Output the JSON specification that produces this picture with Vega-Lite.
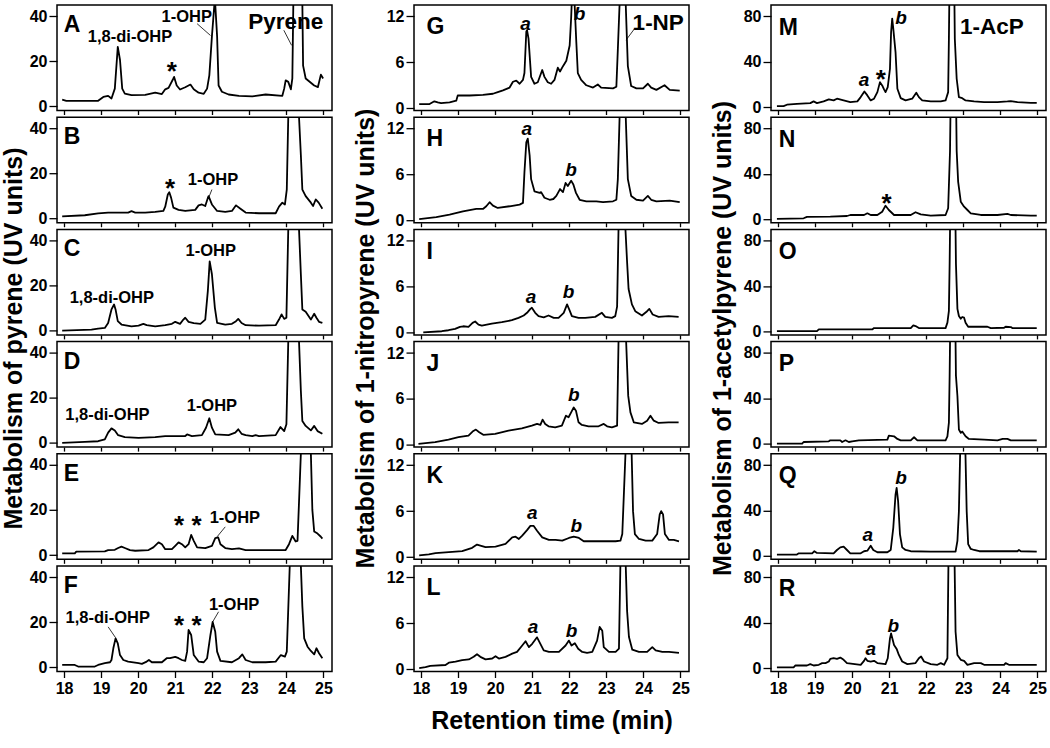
{
"$schema":"https://vega.github.io/schema/vega-lite/v6.json",
"padding":{"left":0,"top":4,"right":0,"bottom":4},
"background":"white",
"config":{"font":"Liberation Sans","view":{"stroke":"black","strokeWidth":1.5},
"axis":{"domain":false,"grid":false,"tickColor":"black","tickWidth":1.3,"labelColor":"black","labelFont":"Liberation Sans","labelFontSize":16,"labelFontWeight":"bold","titleFont":"Liberation Sans","titleFontSize":25,"titleFontWeight":"bold","titleColor":"black","labelFlush":false,"labelOverlap":false}},
"datasets":{
"trace":[
{"p":"A","t":17.95,"v":2.9},{"p":"A","t":18.06,"v":2.4},{"p":"A","t":18.92,"v":2.4},{"p":"A","t":19.06,"v":4.1},{"p":"A","t":19.19,"v":4.6},{"p":"A","t":19.28,"v":3.4},{"p":"A","t":19.37,"v":7.8},{"p":"A","t":19.45,"v":26.3},{"p":"A","t":19.51,"v":20.5},{"p":"A","t":19.57,"v":7.8},{"p":"A","t":19.64,"v":5.6},{"p":"A","t":19.82,"v":4.9},{"p":"A","t":20.19,"v":5.0},{"p":"A","t":20.46,"v":6.0},{"p":"A","t":20.64,"v":5.4},{"p":"A","t":20.73,"v":7.5},{"p":"A","t":20.82,"v":8.1},{"p":"A","t":20.95,"v":12.3},{"p":"A","t":20.97,"v":13.0},{"p":"A","t":21.04,"v":9.2},{"p":"A","t":21.13,"v":7.4},{"p":"A","t":21.27,"v":8.4},{"p":"A","t":21.41,"v":9.6},{"p":"A","t":21.5,"v":7.5},{"p":"A","t":21.63,"v":6.0},{"p":"A","t":21.77,"v":5.5},{"p":"A","t":21.86,"v":7.8},{"p":"A","t":21.92,"v":13.7},{"p":"A","t":21.99,"v":31},{"p":"A","t":22.07,"v":48},{"p":"A","t":22.13,"v":31},{"p":"A","t":22.17,"v":9.2},{"p":"A","t":22.26,"v":6.4},{"p":"A","t":22.44,"v":5.2},{"p":"A","t":22.72,"v":4.6},{"p":"A","t":23.08,"v":4.4},{"p":"A","t":23.44,"v":5.2},{"p":"A","t":23.89,"v":4.6},{"p":"A","t":23.94,"v":7.8},{"p":"A","t":23.98,"v":11.5},{"p":"A","t":24.05,"v":10.8},{"p":"A","t":24.12,"v":7.5},{"p":"A","t":24.16,"v":12.3},{"p":"A","t":24.19,"v":50},{"p":"A","t":24.32,"v":200},{"p":"A","t":24.45,"v":18},{"p":"A","t":24.52,"v":12.3},{"p":"A","t":24.75,"v":9.2},{"p":"A","t":24.85,"v":8.5},{"p":"A","t":24.93,"v":14},{"p":"A","t":24.99,"v":12.3},
{"p":"B","t":17.95,"v":0.9},{"p":"B","t":18.56,"v":1.4},{"p":"B","t":18.92,"v":2.2},{"p":"B","t":19.19,"v":2.6},{"p":"B","t":19.73,"v":2.6},{"p":"B","t":19.82,"v":3.2},{"p":"B","t":19.92,"v":2.6},{"p":"B","t":20.19,"v":2.6},{"p":"B","t":20.46,"v":2.9},{"p":"B","t":20.68,"v":3.3},{"p":"B","t":20.73,"v":5.2},{"p":"B","t":20.8,"v":10.6},{"p":"B","t":20.84,"v":11.6},{"p":"B","t":20.89,"v":9.1},{"p":"B","t":20.95,"v":4.8},{"p":"B","t":21.09,"v":3.8},{"p":"B","t":21.27,"v":3.3},{"p":"B","t":21.54,"v":3.8},{"p":"B","t":21.63,"v":5.8},{"p":"B","t":21.72,"v":6.2},{"p":"B","t":21.81,"v":5.5},{"p":"B","t":21.88,"v":9.1},{"p":"B","t":21.9,"v":9.9},{"p":"B","t":21.99,"v":6.2},{"p":"B","t":22.13,"v":3.3},{"p":"B","t":22.35,"v":2.9},{"p":"B","t":22.53,"v":3.3},{"p":"B","t":22.64,"v":5.8},{"p":"B","t":22.76,"v":4.3},{"p":"B","t":22.9,"v":2.6},{"p":"B","t":23.26,"v":2.3},{"p":"B","t":23.71,"v":2.3},{"p":"B","t":23.8,"v":5.2},{"p":"B","t":23.89,"v":7.0},{"p":"B","t":23.96,"v":6.2},{"p":"B","t":24.01,"v":12.8},{"p":"B","t":24.05,"v":45},{"p":"B","t":24.2,"v":200},{"p":"B","t":24.34,"v":45},{"p":"B","t":24.39,"v":28},{"p":"B","t":24.43,"v":12.8},{"p":"B","t":24.52,"v":9.9},{"p":"B","t":24.66,"v":7.0},{"p":"B","t":24.72,"v":5.5},{"p":"B","t":24.79,"v":8.4},{"p":"B","t":24.87,"v":7.0},{"p":"B","t":24.97,"v":4.3},
{"p":"C","t":17.95,"v":0},{"p":"C","t":18.74,"v":0.4},{"p":"C","t":18.92,"v":0.9},{"p":"C","t":19.1,"v":1.2},{"p":"C","t":19.19,"v":3.4},{"p":"C","t":19.28,"v":9.4},{"p":"C","t":19.35,"v":11.6},{"p":"C","t":19.39,"v":9.4},{"p":"C","t":19.45,"v":4.2},{"p":"C","t":19.55,"v":2.7},{"p":"C","t":19.82,"v":1.9},{"p":"C","t":20.01,"v":2.2},{"p":"C","t":20.14,"v":3.0},{"p":"C","t":20.23,"v":2.4},{"p":"C","t":20.46,"v":1.9},{"p":"C","t":20.73,"v":2.4},{"p":"C","t":20.91,"v":3.0},{"p":"C","t":21.0,"v":3.9},{"p":"C","t":21.13,"v":3.0},{"p":"C","t":21.22,"v":4.9},{"p":"C","t":21.27,"v":5.7},{"p":"C","t":21.36,"v":3.9},{"p":"C","t":21.5,"v":3.3},{"p":"C","t":21.68,"v":3.0},{"p":"C","t":21.81,"v":4.9},{"p":"C","t":21.88,"v":17.6},{"p":"C","t":21.93,"v":30.7},{"p":"C","t":21.99,"v":25},{"p":"C","t":22.07,"v":10.1},{"p":"C","t":22.13,"v":3.4},{"p":"C","t":22.35,"v":2.7},{"p":"C","t":22.53,"v":3.0},{"p":"C","t":22.64,"v":4.2},{"p":"C","t":22.7,"v":5.2},{"p":"C","t":22.79,"v":3.4},{"p":"C","t":22.9,"v":2.4},{"p":"C","t":23.26,"v":2.2},{"p":"C","t":23.71,"v":2.4},{"p":"C","t":23.8,"v":4.9},{"p":"C","t":23.87,"v":7.2},{"p":"C","t":23.94,"v":5.2},{"p":"C","t":24.0,"v":5.7},{"p":"C","t":24.05,"v":45},{"p":"C","t":24.2,"v":200},{"p":"C","t":24.34,"v":45},{"p":"C","t":24.39,"v":24.9},{"p":"C","t":24.43,"v":9.4},{"p":"C","t":24.52,"v":8.4},{"p":"C","t":24.66,"v":4.9},{"p":"C","t":24.75,"v":7.5},{"p":"C","t":24.81,"v":5.7},{"p":"C","t":24.88,"v":3.9},{"p":"C","t":24.97,"v":3.4},
{"p":"D","t":17.95,"v":0},{"p":"D","t":18.56,"v":0.4},{"p":"D","t":18.92,"v":0.7},{"p":"D","t":19.1,"v":1.5},{"p":"D","t":19.19,"v":4.5},{"p":"D","t":19.28,"v":6.4},{"p":"D","t":19.37,"v":5.5},{"p":"D","t":19.46,"v":3.4},{"p":"D","t":19.64,"v":2.5},{"p":"D","t":20.01,"v":2.2},{"p":"D","t":20.46,"v":2.5},{"p":"D","t":20.73,"v":3.0},{"p":"D","t":21.27,"v":3.0},{"p":"D","t":21.32,"v":3.7},{"p":"D","t":21.45,"v":3.0},{"p":"D","t":21.72,"v":3.4},{"p":"D","t":21.83,"v":6.7},{"p":"D","t":21.92,"v":10.9},{"p":"D","t":21.99,"v":6.7},{"p":"D","t":22.08,"v":3.7},{"p":"D","t":22.44,"v":3.4},{"p":"D","t":22.62,"v":4.5},{"p":"D","t":22.7,"v":6.0},{"p":"D","t":22.79,"v":4.0},{"p":"D","t":22.9,"v":3.4},{"p":"D","t":23.08,"v":3.0},{"p":"D","t":23.17,"v":3.4},{"p":"D","t":23.26,"v":3.0},{"p":"D","t":23.71,"v":3.4},{"p":"D","t":23.84,"v":7.0},{"p":"D","t":23.94,"v":5.2},{"p":"D","t":24.0,"v":8.2},{"p":"D","t":24.05,"v":45},{"p":"D","t":24.2,"v":200},{"p":"D","t":24.34,"v":45},{"p":"D","t":24.39,"v":23},{"p":"D","t":24.43,"v":9.7},{"p":"D","t":24.52,"v":7.5},{"p":"D","t":24.66,"v":5.5},{"p":"D","t":24.75,"v":7.5},{"p":"D","t":24.84,"v":5.2},{"p":"D","t":24.97,"v":4.0},
{"p":"E","t":17.95,"v":0.7},{"p":"E","t":18.29,"v":0.7},{"p":"E","t":18.33,"v":1.5},{"p":"E","t":19.1,"v":1.6},{"p":"E","t":19.19,"v":2.2},{"p":"E","t":19.37,"v":2.3},{"p":"E","t":19.46,"v":3.1},{"p":"E","t":19.55,"v":3.7},{"p":"E","t":19.64,"v":3.1},{"p":"E","t":19.78,"v":2.2},{"p":"E","t":19.92,"v":1.9},{"p":"E","t":20.28,"v":2.2},{"p":"E","t":20.41,"v":3.4},{"p":"E","t":20.55,"v":5.6},{"p":"E","t":20.64,"v":4.8},{"p":"E","t":20.73,"v":2.6},{"p":"E","t":20.91,"v":2.6},{"p":"E","t":21.0,"v":4.1},{"p":"E","t":21.09,"v":5.6},{"p":"E","t":21.18,"v":4.8},{"p":"E","t":21.27,"v":3.4},{"p":"E","t":21.36,"v":4.8},{"p":"E","t":21.43,"v":8.9},{"p":"E","t":21.5,"v":6.3},{"p":"E","t":21.59,"v":3.4},{"p":"E","t":21.81,"v":3.1},{"p":"E","t":21.99,"v":4.1},{"p":"E","t":22.08,"v":7.5},{"p":"E","t":22.16,"v":7.8},{"p":"E","t":22.22,"v":4.8},{"p":"E","t":22.35,"v":3.1},{"p":"E","t":22.53,"v":2.6},{"p":"E","t":22.72,"v":2.9},{"p":"E","t":22.9,"v":2.2},{"p":"E","t":23.44,"v":2.2},{"p":"E","t":23.98,"v":2.2},{"p":"E","t":24.07,"v":4.8},{"p":"E","t":24.16,"v":8.5},{"p":"E","t":24.25,"v":6.0},{"p":"E","t":24.3,"v":6.3},{"p":"E","t":24.39,"v":45},{"p":"E","t":24.52,"v":200},{"p":"E","t":24.66,"v":45},{"p":"E","t":24.7,"v":20},{"p":"E","t":24.75,"v":10.4},{"p":"E","t":24.84,"v":9.5},{"p":"E","t":24.93,"v":8.1},{"p":"E","t":24.97,"v":7.3},
{"p":"F","t":17.95,"v":1.0},{"p":"F","t":18.29,"v":1.0},{"p":"F","t":18.38,"v":0.3},{"p":"F","t":18.83,"v":0.3},{"p":"F","t":18.92,"v":1.0},{"p":"F","t":19.1,"v":1.8},{"p":"F","t":19.24,"v":2.2},{"p":"F","t":19.28,"v":3.2},{"p":"F","t":19.33,"v":8.4},{"p":"F","t":19.39,"v":12.8},{"p":"F","t":19.45,"v":10.6},{"p":"F","t":19.51,"v":5.4},{"p":"F","t":19.6,"v":3.2},{"p":"F","t":19.73,"v":2.5},{"p":"F","t":20.01,"v":1.8},{"p":"F","t":20.1,"v":1.5},{"p":"F","t":20.23,"v":2.5},{"p":"F","t":20.29,"v":3.2},{"p":"F","t":20.37,"v":2.2},{"p":"F","t":20.64,"v":2.2},{"p":"F","t":20.77,"v":4.0},{"p":"F","t":20.86,"v":4.0},{"p":"F","t":21.0,"v":4.6},{"p":"F","t":21.09,"v":4.0},{"p":"F","t":21.18,"v":3.2},{"p":"F","t":21.27,"v":2.8},{"p":"F","t":21.32,"v":6.9},{"p":"F","t":21.36,"v":16.5},{"p":"F","t":21.43,"v":14.3},{"p":"F","t":21.5,"v":5.4},{"p":"F","t":21.63,"v":2.5},{"p":"F","t":21.77,"v":2.2},{"p":"F","t":21.86,"v":4.0},{"p":"F","t":21.95,"v":14.3},{"p":"F","t":22.01,"v":20.1},{"p":"F","t":22.08,"v":15.7},{"p":"F","t":22.13,"v":6.9},{"p":"F","t":22.22,"v":2.8},{"p":"F","t":22.53,"v":2.2},{"p":"F","t":22.72,"v":4.0},{"p":"F","t":22.81,"v":5.7},{"p":"F","t":22.9,"v":3.2},{"p":"F","t":23.08,"v":2.2},{"p":"F","t":23.44,"v":2.2},{"p":"F","t":23.71,"v":2.5},{"p":"F","t":23.85,"v":5.4},{"p":"F","t":23.96,"v":4.7},{"p":"F","t":24.01,"v":6.9},{"p":"F","t":24.09,"v":45},{"p":"F","t":24.23,"v":200},{"p":"F","t":24.39,"v":45},{"p":"F","t":24.43,"v":27},{"p":"F","t":24.48,"v":12.8},{"p":"F","t":24.57,"v":9.1},{"p":"F","t":24.66,"v":7.2},{"p":"F","t":24.75,"v":5.7},{"p":"F","t":24.81,"v":8.4},{"p":"F","t":24.88,"v":6.2},{"p":"F","t":24.97,"v":4.0},
{"p":"G","t":17.95,"v":0.54},{"p":"G","t":18.23,"v":0.54},{"p":"G","t":18.36,"v":0.9},{"p":"G","t":18.45,"v":0.76},{"p":"G","t":18.54,"v":0.67},{"p":"G","t":18.77,"v":0.76},{"p":"G","t":18.95,"v":0.99},{"p":"G","t":18.99,"v":1.66},{"p":"G","t":19.31,"v":1.66},{"p":"G","t":19.67,"v":1.75},{"p":"G","t":19.94,"v":1.89},{"p":"G","t":20.07,"v":2.1},{"p":"G","t":20.21,"v":2.34},{"p":"G","t":20.39,"v":2.7},{"p":"G","t":20.48,"v":3.46},{"p":"G","t":20.57,"v":3.6},{"p":"G","t":20.66,"v":3.2},{"p":"G","t":20.75,"v":3.7},{"p":"G","t":20.79,"v":4.6},{"p":"G","t":20.84,"v":10.0},{"p":"G","t":20.86,"v":10.2},{"p":"G","t":20.9,"v":9.1},{"p":"G","t":20.97,"v":4.1},{"p":"G","t":21.06,"v":3.2},{"p":"G","t":21.15,"v":3.4},{"p":"G","t":21.27,"v":5.0},{"p":"G","t":21.33,"v":4.1},{"p":"G","t":21.42,"v":3.4},{"p":"G","t":21.51,"v":3.2},{"p":"G","t":21.6,"v":3.7},{"p":"G","t":21.69,"v":5.3},{"p":"G","t":21.75,"v":4.8},{"p":"G","t":21.83,"v":5.5},{"p":"G","t":21.92,"v":6.2},{"p":"G","t":22.01,"v":8.2},{"p":"G","t":22.05,"v":11.8},{"p":"G","t":22.1,"v":18},{"p":"G","t":22.14,"v":14},{"p":"G","t":22.19,"v":8.6},{"p":"G","t":22.23,"v":4.6},{"p":"G","t":22.32,"v":3.7},{"p":"G","t":22.46,"v":3.0},{"p":"G","t":22.64,"v":2.7},{"p":"G","t":22.77,"v":3.1},{"p":"G","t":22.86,"v":2.7},{"p":"G","t":23.18,"v":2.6},{"p":"G","t":23.27,"v":2.8},{"p":"G","t":23.31,"v":7.7},{"p":"G","t":23.36,"v":14},{"p":"G","t":23.45,"v":60},{"p":"G","t":23.52,"v":14},{"p":"G","t":23.58,"v":5.5},{"p":"G","t":23.67,"v":2.9},{"p":"G","t":23.81,"v":2.6},{"p":"G","t":23.99,"v":2.6},{"p":"G","t":24.12,"v":3.2},{"p":"G","t":24.21,"v":2.7},{"p":"G","t":24.35,"v":2.4},{"p":"G","t":24.57,"v":3.0},{"p":"G","t":24.71,"v":2.4},{"p":"G","t":24.98,"v":2.3},
{"p":"H","t":17.95,"v":0.18},{"p":"H","t":18.41,"v":0.44},{"p":"H","t":18.77,"v":0.75},{"p":"H","t":19.13,"v":1.19},{"p":"H","t":19.49,"v":1.5},{"p":"H","t":19.67,"v":1.5},{"p":"H","t":19.76,"v":1.85},{"p":"H","t":19.85,"v":2.38},{"p":"H","t":19.94,"v":1.94},{"p":"H","t":20.07,"v":1.63},{"p":"H","t":20.39,"v":1.85},{"p":"H","t":20.66,"v":2.07},{"p":"H","t":20.75,"v":2.29},{"p":"H","t":20.79,"v":6.3},{"p":"H","t":20.84,"v":10.2},{"p":"H","t":20.88,"v":10.7},{"p":"H","t":20.93,"v":8.5},{"p":"H","t":20.97,"v":5.4},{"p":"H","t":21.06,"v":3.8},{"p":"H","t":21.2,"v":3.6},{"p":"H","t":21.24,"v":3.7},{"p":"H","t":21.33,"v":2.96},{"p":"H","t":21.47,"v":2.7},{"p":"H","t":21.57,"v":2.8},{"p":"H","t":21.65,"v":3.2},{"p":"H","t":21.75,"v":4.1},{"p":"H","t":21.83,"v":3.7},{"p":"H","t":21.9,"v":4.9},{"p":"H","t":21.96,"v":4.5},{"p":"H","t":22.05,"v":5.2},{"p":"H","t":22.11,"v":4.7},{"p":"H","t":22.18,"v":3.6},{"p":"H","t":22.28,"v":2.7},{"p":"H","t":22.46,"v":2.5},{"p":"H","t":22.73,"v":2.5},{"p":"H","t":22.91,"v":2.4},{"p":"H","t":23.18,"v":2.5},{"p":"H","t":23.27,"v":2.7},{"p":"H","t":23.31,"v":5.4},{"p":"H","t":23.36,"v":14},{"p":"H","t":23.45,"v":60},{"p":"H","t":23.52,"v":14},{"p":"H","t":23.58,"v":5.4},{"p":"H","t":23.67,"v":3.2},{"p":"H","t":23.81,"v":2.7},{"p":"H","t":23.99,"v":2.6},{"p":"H","t":24.12,"v":3.2},{"p":"H","t":24.21,"v":2.7},{"p":"H","t":24.35,"v":2.5},{"p":"H","t":24.71,"v":2.6},{"p":"H","t":24.98,"v":2.4},
{"p":"I","t":18.06,"v":0.04},{"p":"I","t":18.56,"v":0.18},{"p":"I","t":18.74,"v":0.31},{"p":"I","t":18.92,"v":0.48},{"p":"I","t":19.05,"v":0.75},{"p":"I","t":19.14,"v":0.83},{"p":"I","t":19.28,"v":0.75},{"p":"I","t":19.39,"v":1.27},{"p":"I","t":19.46,"v":1.45},{"p":"I","t":19.55,"v":1.05},{"p":"I","t":19.64,"v":0.92},{"p":"I","t":19.91,"v":1.18},{"p":"I","t":20.18,"v":1.36},{"p":"I","t":20.45,"v":1.62},{"p":"I","t":20.63,"v":1.93},{"p":"I","t":20.77,"v":2.24},{"p":"I","t":20.86,"v":2.59},{"p":"I","t":20.95,"v":3.1},{"p":"I","t":20.99,"v":3.25},{"p":"I","t":21.08,"v":2.59},{"p":"I","t":21.17,"v":2.15},{"p":"I","t":21.31,"v":2.0},{"p":"I","t":21.44,"v":2.24},{"p":"I","t":21.58,"v":1.93},{"p":"I","t":21.71,"v":1.93},{"p":"I","t":21.85,"v":2.59},{"p":"I","t":21.94,"v":3.7},{"p":"I","t":22.0,"v":3.0},{"p":"I","t":22.07,"v":2.15},{"p":"I","t":22.25,"v":1.93},{"p":"I","t":22.43,"v":1.93},{"p":"I","t":22.7,"v":2.06},{"p":"I","t":22.88,"v":2.59},{"p":"I","t":22.97,"v":2.06},{"p":"I","t":23.15,"v":1.93},{"p":"I","t":23.24,"v":2.15},{"p":"I","t":23.29,"v":3.4},{"p":"I","t":23.33,"v":14},{"p":"I","t":23.42,"v":60},{"p":"I","t":23.51,"v":14},{"p":"I","t":23.56,"v":9.2},{"p":"I","t":23.6,"v":5.7},{"p":"I","t":23.69,"v":3.7},{"p":"I","t":23.78,"v":2.8},{"p":"I","t":23.96,"v":2.24},{"p":"I","t":24.1,"v":2.8},{"p":"I","t":24.16,"v":3.1},{"p":"I","t":24.25,"v":2.37},{"p":"I","t":24.41,"v":2.06},{"p":"I","t":24.68,"v":2.15},{"p":"I","t":24.95,"v":2.06},
{"p":"J","t":17.93,"v":0.13},{"p":"J","t":18.38,"v":0.35},{"p":"J","t":18.74,"v":0.69},{"p":"J","t":19.01,"v":1.0},{"p":"J","t":19.28,"v":1.21},{"p":"J","t":19.39,"v":1.73},{"p":"J","t":19.48,"v":1.99},{"p":"J","t":19.57,"v":1.65},{"p":"J","t":19.68,"v":1.3},{"p":"J","t":20.0,"v":1.43},{"p":"J","t":20.36,"v":1.86},{"p":"J","t":20.72,"v":2.16},{"p":"J","t":20.99,"v":2.5},{"p":"J","t":21.13,"v":2.73},{"p":"J","t":21.22,"v":2.6},{"p":"J","t":21.28,"v":3.29},{"p":"J","t":21.35,"v":2.73},{"p":"J","t":21.44,"v":2.42},{"p":"J","t":21.62,"v":2.29},{"p":"J","t":21.8,"v":2.5},{"p":"J","t":21.91,"v":3.81},{"p":"J","t":21.98,"v":3.6},{"p":"J","t":22.05,"v":4.24},{"p":"J","t":22.12,"v":4.89},{"p":"J","t":22.18,"v":4.46},{"p":"J","t":22.25,"v":2.94},{"p":"J","t":22.34,"v":2.6},{"p":"J","t":22.52,"v":2.42},{"p":"J","t":22.79,"v":2.42},{"p":"J","t":22.93,"v":2.73},{"p":"J","t":23.02,"v":2.42},{"p":"J","t":23.15,"v":2.29},{"p":"J","t":23.29,"v":2.5},{"p":"J","t":23.33,"v":14},{"p":"J","t":23.44,"v":60},{"p":"J","t":23.53,"v":14},{"p":"J","t":23.59,"v":6.4},{"p":"J","t":23.65,"v":4.24},{"p":"J","t":23.74,"v":2.94},{"p":"J","t":23.96,"v":2.73},{"p":"J","t":24.1,"v":3.16},{"p":"J","t":24.19,"v":3.81},{"p":"J","t":24.28,"v":3.16},{"p":"J","t":24.41,"v":2.86},{"p":"J","t":24.68,"v":2.94},{"p":"J","t":24.95,"v":2.94},
{"p":"K","t":17.95,"v":0.21},{"p":"K","t":18.21,"v":0.34},{"p":"K","t":18.39,"v":0.51},{"p":"K","t":18.75,"v":0.64},{"p":"K","t":19.11,"v":0.77},{"p":"K","t":19.38,"v":1.2},{"p":"K","t":19.51,"v":1.63},{"p":"K","t":19.6,"v":1.5},{"p":"K","t":19.74,"v":1.29},{"p":"K","t":20.01,"v":1.37},{"p":"K","t":20.28,"v":1.71},{"p":"K","t":20.46,"v":2.57},{"p":"K","t":20.55,"v":2.66},{"p":"K","t":20.64,"v":2.36},{"p":"K","t":20.73,"v":2.79},{"p":"K","t":20.86,"v":3.51},{"p":"K","t":20.95,"v":4.07},{"p":"K","t":21.04,"v":4.07},{"p":"K","t":21.13,"v":3.43},{"p":"K","t":21.27,"v":2.57},{"p":"K","t":21.45,"v":2.23},{"p":"K","t":21.63,"v":2.23},{"p":"K","t":21.81,"v":2.14},{"p":"K","t":21.99,"v":2.49},{"p":"K","t":22.12,"v":2.66},{"p":"K","t":22.26,"v":2.49},{"p":"K","t":22.39,"v":2.06},{"p":"K","t":22.71,"v":2.06},{"p":"K","t":23.25,"v":2.06},{"p":"K","t":23.38,"v":2.14},{"p":"K","t":23.43,"v":3.0},{"p":"K","t":23.52,"v":14},{"p":"K","t":23.6,"v":60},{"p":"K","t":23.68,"v":14},{"p":"K","t":23.72,"v":6.0},{"p":"K","t":23.77,"v":3.0},{"p":"K","t":23.88,"v":2.36},{"p":"K","t":24.06,"v":2.14},{"p":"K","t":24.24,"v":2.14},{"p":"K","t":24.37,"v":3.0},{"p":"K","t":24.44,"v":5.57},{"p":"K","t":24.48,"v":6.0},{"p":"K","t":24.53,"v":5.57},{"p":"K","t":24.58,"v":3.0},{"p":"K","t":24.69,"v":2.23},{"p":"K","t":24.82,"v":2.23},{"p":"K","t":24.96,"v":2.06},
{"p":"L","t":17.95,"v":0.13},{"p":"L","t":18.12,"v":0.26},{"p":"L","t":18.25,"v":0.43},{"p":"L","t":18.66,"v":0.55},{"p":"L","t":18.75,"v":0.85},{"p":"L","t":18.93,"v":0.98},{"p":"L","t":19.11,"v":1.19},{"p":"L","t":19.29,"v":1.28},{"p":"L","t":19.42,"v":1.62},{"p":"L","t":19.51,"v":1.96},{"p":"L","t":19.6,"v":1.62},{"p":"L","t":19.74,"v":1.28},{"p":"L","t":19.92,"v":1.4},{"p":"L","t":20.01,"v":1.7},{"p":"L","t":20.1,"v":1.4},{"p":"L","t":20.28,"v":1.62},{"p":"L","t":20.46,"v":2.04},{"p":"L","t":20.59,"v":2.26},{"p":"L","t":20.73,"v":3.1},{"p":"L","t":20.82,"v":3.66},{"p":"L","t":20.91,"v":2.89},{"p":"L","t":21.0,"v":3.32},{"p":"L","t":21.13,"v":4.17},{"p":"L","t":21.22,"v":3.32},{"p":"L","t":21.31,"v":2.47},{"p":"L","t":21.45,"v":2.26},{"p":"L","t":21.72,"v":2.26},{"p":"L","t":21.9,"v":3.1},{"p":"L","t":21.99,"v":3.74},{"p":"L","t":22.06,"v":3.1},{"p":"L","t":22.15,"v":3.4},{"p":"L","t":22.24,"v":2.68},{"p":"L","t":22.35,"v":2.26},{"p":"L","t":22.48,"v":2.13},{"p":"L","t":22.62,"v":2.26},{"p":"L","t":22.75,"v":3.74},{"p":"L","t":22.82,"v":5.53},{"p":"L","t":22.89,"v":5.02},{"p":"L","t":22.93,"v":2.89},{"p":"L","t":23.07,"v":2.26},{"p":"L","t":23.25,"v":2.26},{"p":"L","t":23.34,"v":2.68},{"p":"L","t":23.38,"v":14},{"p":"L","t":23.45,"v":60},{"p":"L","t":23.52,"v":14},{"p":"L","t":23.56,"v":7.6},{"p":"L","t":23.61,"v":4.2},{"p":"L","t":23.7,"v":2.55},{"p":"L","t":23.88,"v":2.26},{"p":"L","t":24.1,"v":2.26},{"p":"L","t":24.24,"v":2.89},{"p":"L","t":24.33,"v":2.47},{"p":"L","t":24.51,"v":2.26},{"p":"L","t":24.69,"v":2.26},{"p":"L","t":24.96,"v":2.13},
{"p":"M","t":17.97,"v":0.9},{"p":"M","t":18.15,"v":0.9},{"p":"M","t":18.24,"v":2.1},{"p":"M","t":18.51,"v":2.9},{"p":"M","t":18.87,"v":3.5},{"p":"M","t":18.96,"v":5.0},{"p":"M","t":19.05,"v":3.5},{"p":"M","t":19.23,"v":5.0},{"p":"M","t":19.37,"v":6.8},{"p":"M","t":19.5,"v":5.9},{"p":"M","t":19.59,"v":7.4},{"p":"M","t":19.77,"v":5.9},{"p":"M","t":19.95,"v":4.4},{"p":"M","t":20.14,"v":5.0},{"p":"M","t":20.23,"v":8.8},{"p":"M","t":20.33,"v":13.8},{"p":"M","t":20.41,"v":10.3},{"p":"M","t":20.5,"v":5.9},{"p":"M","t":20.59,"v":7.4},{"p":"M","t":20.68,"v":13.2},{"p":"M","t":20.75,"v":22},{"p":"M","t":20.81,"v":19.1},{"p":"M","t":20.86,"v":15.6},{"p":"M","t":20.9,"v":13.2},{"p":"M","t":20.96,"v":17.6},{"p":"M","t":21.02,"v":33.8},{"p":"M","t":21.05,"v":66},{"p":"M","t":21.08,"v":78},{"p":"M","t":21.11,"v":69},{"p":"M","t":21.17,"v":48.5},{"p":"M","t":21.22,"v":16.2},{"p":"M","t":21.31,"v":7.9},{"p":"M","t":21.44,"v":5.9},{"p":"M","t":21.62,"v":7.4},{"p":"M","t":21.73,"v":12.6},{"p":"M","t":21.8,"v":8.8},{"p":"M","t":21.89,"v":5.9},{"p":"M","t":22.12,"v":5.0},{"p":"M","t":22.39,"v":5.0},{"p":"M","t":22.52,"v":5.9},{"p":"M","t":22.59,"v":13.2},{"p":"M","t":22.61,"v":60},{"p":"M","t":22.69,"v":300},{"p":"M","t":22.77,"v":60},{"p":"M","t":22.82,"v":25},{"p":"M","t":22.88,"v":8.8},{"p":"M","t":22.97,"v":7.9},{"p":"M","t":23.06,"v":5.9},{"p":"M","t":23.29,"v":5.0},{"p":"M","t":23.56,"v":4.4},{"p":"M","t":23.92,"v":4.4},{"p":"M","t":24.19,"v":5.0},{"p":"M","t":24.28,"v":5.3},{"p":"M","t":24.46,"v":4.4},{"p":"M","t":24.82,"v":3.8},{"p":"M","t":24.98,"v":3.8},
{"p":"N","t":17.97,"v":0.3},{"p":"N","t":18.69,"v":0.9},{"p":"N","t":18.78,"v":2.1},{"p":"N","t":19.41,"v":2.3},{"p":"N","t":19.86,"v":2.9},{"p":"N","t":19.95,"v":3.8},{"p":"N","t":20.32,"v":3.8},{"p":"N","t":20.41,"v":5.3},{"p":"N","t":20.5,"v":3.8},{"p":"N","t":20.68,"v":3.8},{"p":"N","t":20.81,"v":6.7},{"p":"N","t":20.9,"v":12.0},{"p":"N","t":20.99,"v":8.2},{"p":"N","t":21.13,"v":3.8},{"p":"N","t":21.58,"v":3.8},{"p":"N","t":21.71,"v":6.2},{"p":"N","t":21.85,"v":4.4},{"p":"N","t":22.12,"v":3.2},{"p":"N","t":22.52,"v":3.8},{"p":"N","t":22.59,"v":9.7},{"p":"N","t":22.64,"v":60},{"p":"N","t":22.73,"v":300},{"p":"N","t":22.82,"v":60},{"p":"N","t":22.86,"v":33},{"p":"N","t":22.93,"v":15.5},{"p":"N","t":23.02,"v":11.1},{"p":"N","t":23.11,"v":8.2},{"p":"N","t":23.2,"v":5.3},{"p":"N","t":23.47,"v":3.8},{"p":"N","t":23.92,"v":3.8},{"p":"N","t":24.19,"v":4.7},{"p":"N","t":24.28,"v":3.8},{"p":"N","t":24.82,"v":3.2},{"p":"N","t":24.98,"v":3.2},
{"p":"O","t":17.97,"v":0.3},{"p":"O","t":19.05,"v":0.3},{"p":"O","t":19.1,"v":1.8},{"p":"O","t":20.54,"v":1.8},{"p":"O","t":20.59,"v":3.0},{"p":"O","t":21.58,"v":3.0},{"p":"O","t":21.65,"v":5.4},{"p":"O","t":21.71,"v":4.8},{"p":"O","t":21.8,"v":3.0},{"p":"O","t":22.52,"v":3.0},{"p":"O","t":22.57,"v":7.8},{"p":"O","t":22.61,"v":18.2},{"p":"O","t":22.63,"v":60},{"p":"O","t":22.715,"v":300},{"p":"O","t":22.8,"v":60},{"p":"O","t":22.84,"v":20},{"p":"O","t":22.88,"v":13.7},{"p":"O","t":22.93,"v":11.3},{"p":"O","t":22.97,"v":12.8},{"p":"O","t":23.02,"v":12.2},{"p":"O","t":23.06,"v":7.8},{"p":"O","t":23.13,"v":4.2},{"p":"O","t":23.65,"v":4.2},{"p":"O","t":23.74,"v":3.0},{"p":"O","t":24.1,"v":3.3},{"p":"O","t":24.14,"v":4.2},{"p":"O","t":24.28,"v":3.9},{"p":"O","t":24.32,"v":3.0},{"p":"O","t":24.98,"v":3.0},
{"p":"P","t":17.97,"v":0},{"p":"P","t":18.65,"v":0},{"p":"P","t":18.69,"v":1.5},{"p":"P","t":19.37,"v":2.1},{"p":"P","t":19.41,"v":3.0},{"p":"P","t":19.68,"v":3.0},{"p":"P","t":19.73,"v":1.5},{"p":"P","t":19.82,"v":3.0},{"p":"P","t":19.91,"v":1.5},{"p":"P","t":20.0,"v":2.1},{"p":"P","t":20.18,"v":3.0},{"p":"P","t":20.95,"v":3.6},{"p":"P","t":20.99,"v":7.1},{"p":"P","t":21.13,"v":6.5},{"p":"P","t":21.22,"v":4.2},{"p":"P","t":21.31,"v":3.0},{"p":"P","t":21.58,"v":3.0},{"p":"P","t":21.67,"v":5.7},{"p":"P","t":21.76,"v":3.0},{"p":"P","t":22.52,"v":3.0},{"p":"P","t":22.57,"v":6.5},{"p":"P","t":22.61,"v":18.5},{"p":"P","t":22.63,"v":60},{"p":"P","t":22.715,"v":300},{"p":"P","t":22.8,"v":60},{"p":"P","t":22.84,"v":42},{"p":"P","t":22.88,"v":12.5},{"p":"P","t":22.93,"v":9.5},{"p":"P","t":22.97,"v":10.7},{"p":"P","t":23.06,"v":6.5},{"p":"P","t":23.15,"v":4.2},{"p":"P","t":23.56,"v":3.6},{"p":"P","t":23.92,"v":3.0},{"p":"P","t":24.06,"v":4.2},{"p":"P","t":24.19,"v":4.2},{"p":"P","t":24.28,"v":3.0},{"p":"P","t":24.98,"v":3.0},
{"p":"Q","t":17.97,"v":1.2},{"p":"Q","t":18.51,"v":1.2},{"p":"Q","t":18.56,"v":2.3},{"p":"Q","t":18.92,"v":2.3},{"p":"Q","t":18.98,"v":4.1},{"p":"Q","t":19.05,"v":2.6},{"p":"Q","t":19.5,"v":2.3},{"p":"Q","t":19.59,"v":5.2},{"p":"Q","t":19.68,"v":7.5},{"p":"Q","t":19.77,"v":8.1},{"p":"Q","t":19.86,"v":5.2},{"p":"Q","t":19.95,"v":2.3},{"p":"Q","t":20.23,"v":2.3},{"p":"Q","t":20.32,"v":4.1},{"p":"Q","t":20.41,"v":4.6},{"p":"Q","t":20.5,"v":9.0},{"p":"Q","t":20.57,"v":5.2},{"p":"Q","t":20.68,"v":3.2},{"p":"Q","t":20.95,"v":3.2},{"p":"Q","t":21.04,"v":5.2},{"p":"Q","t":21.11,"v":25},{"p":"Q","t":21.17,"v":54},{"p":"Q","t":21.2,"v":60},{"p":"Q","t":21.24,"v":48},{"p":"Q","t":21.29,"v":19},{"p":"Q","t":21.35,"v":7.5},{"p":"Q","t":21.44,"v":5.2},{"p":"Q","t":21.58,"v":4.1},{"p":"Q","t":22.12,"v":3.8},{"p":"Q","t":22.79,"v":3.8},{"p":"Q","t":22.84,"v":13.3},{"p":"Q","t":22.88,"v":39.4},{"p":"Q","t":22.92,"v":100},{"p":"Q","t":22.985,"v":300},{"p":"Q","t":23.05,"v":100},{"p":"Q","t":23.09,"v":39.4},{"p":"Q","t":23.13,"v":10.4},{"p":"Q","t":23.2,"v":6.1},{"p":"Q","t":23.29,"v":5.2},{"p":"Q","t":23.43,"v":4.1},{"p":"Q","t":23.92,"v":4.1},{"p":"Q","t":24.46,"v":4.1},{"p":"Q","t":24.5,"v":5.2},{"p":"Q","t":24.55,"v":4.1},{"p":"Q","t":24.98,"v":3.8},
{"p":"R","t":17.97,"v":0.6},{"p":"R","t":18.42,"v":0.6},{"p":"R","t":18.47,"v":2.3},{"p":"R","t":18.78,"v":2.3},{"p":"R","t":18.87,"v":3.5},{"p":"R","t":18.96,"v":2.3},{"p":"R","t":19.1,"v":2.9},{"p":"R","t":19.19,"v":4.4},{"p":"R","t":19.28,"v":4.4},{"p":"R","t":19.37,"v":5.8},{"p":"R","t":19.41,"v":8.1},{"p":"R","t":19.5,"v":8.7},{"p":"R","t":19.59,"v":8.1},{"p":"R","t":19.68,"v":9.3},{"p":"R","t":19.77,"v":7.3},{"p":"R","t":19.86,"v":4.4},{"p":"R","t":20.23,"v":2.9},{"p":"R","t":20.32,"v":6.4},{"p":"R","t":20.36,"v":8.7},{"p":"R","t":20.41,"v":6.4},{"p":"R","t":20.5,"v":5.8},{"p":"R","t":20.59,"v":6.4},{"p":"R","t":20.68,"v":4.4},{"p":"R","t":20.9,"v":3.5},{"p":"R","t":20.96,"v":8.7},{"p":"R","t":21.02,"v":26.2},{"p":"R","t":21.05,"v":30.5},{"p":"R","t":21.13,"v":20.3},{"p":"R","t":21.2,"v":16.9},{"p":"R","t":21.26,"v":11.6},{"p":"R","t":21.35,"v":5.8},{"p":"R","t":21.49,"v":3.5},{"p":"R","t":21.71,"v":4.4},{"p":"R","t":21.8,"v":8.7},{"p":"R","t":21.86,"v":10.2},{"p":"R","t":21.94,"v":5.8},{"p":"R","t":22.12,"v":3.5},{"p":"R","t":22.3,"v":2.9},{"p":"R","t":22.39,"v":4.4},{"p":"R","t":22.48,"v":2.9},{"p":"R","t":22.57,"v":8.7},{"p":"R","t":22.6,"v":100},{"p":"R","t":22.68,"v":300},{"p":"R","t":22.76,"v":100},{"p":"R","t":22.79,"v":32},{"p":"R","t":22.84,"v":11.6},{"p":"R","t":22.93,"v":7.3},{"p":"R","t":23.02,"v":6.4},{"p":"R","t":23.11,"v":2.9},{"p":"R","t":23.29,"v":4.4},{"p":"R","t":23.47,"v":4.4},{"p":"R","t":23.56,"v":2.9},{"p":"R","t":24.1,"v":2.9},{"p":"R","t":24.14,"v":4.4},{"p":"R","t":24.23,"v":2.9},{"p":"R","t":24.98,"v":2.9}
],
"notes":[
{"p":"A","k":"L","s":"A","t":17.99,"v":36},{"p":"A","k":"P","s":"1,8-di-OHP","t":19.78,"v":30.7},{"p":"A","k":"P","s":"1-OHP","t":21.31,"v":39.6},{"p":"A","k":"C","s":"Pyrene","t":23.98,"v":37.3},{"p":"A","k":"S","s":"*","t":20.91,"v":17.9},
{"p":"B","k":"L","s":"B","t":17.99,"v":36},{"p":"B","k":"S","s":"*","t":20.86,"v":15.7},{"p":"B","k":"P","s":"1-OHP","t":22.02,"v":17.1},
{"p":"C","k":"L","s":"C","t":17.99,"v":36},{"p":"C","k":"P","s":"1-OHP","t":21.96,"v":35.2},{"p":"C","k":"P","s":"1,8-di-OHP","t":19.29,"v":14.6},
{"p":"D","k":"L","s":"D","t":17.99,"v":36},{"p":"D","k":"P","s":"1,8-di-OHP","t":19.17,"v":12.4},{"p":"D","k":"P","s":"1-OHP","t":21.99,"v":16.5},
{"p":"E","k":"L","s":"E","t":17.99,"v":36},{"p":"E","k":"S","s":"* *","t":21.34,"v":15.4},{"p":"E","k":"P","s":"1-OHP","t":22.61,"v":16.3},
{"p":"F","k":"L","s":"F","t":17.99,"v":36},{"p":"F","k":"P","s":"1,8-di-OHP","t":19.18,"v":21.9},{"p":"F","k":"S","s":"* *","t":21.34,"v":20.9},{"p":"F","k":"P","s":"1-OHP","t":22.59,"v":27.5},
{"p":"G","k":"L","s":"G","t":18.15,"v":10.6},{"p":"G","k":"I","s":"a","t":20.82,"v":11.0},{"p":"G","k":"I","s":"b","t":22.28,"v":12.3},{"p":"G","k":"C","s":"1-NP","t":24.4,"v":11.1},
{"p":"H","k":"L","s":"H","t":18.15,"v":10.6},{"p":"H","k":"I","s":"a","t":20.85,"v":12.0},{"p":"H","k":"I","s":"b","t":22.05,"v":6.6},
{"p":"I","k":"L","s":"I","t":18.15,"v":10.6},{"p":"I","k":"I","s":"a","t":20.97,"v":4.7},{"p":"I","k":"I","s":"b","t":21.98,"v":5.3},
{"p":"J","k":"L","s":"J","t":18.15,"v":10.6},{"p":"J","k":"I","s":"b","t":22.12,"v":6.5},
{"p":"K","k":"L","s":"K","t":18.15,"v":10.6},{"p":"K","k":"I","s":"a","t":21.0,"v":5.8},{"p":"K","k":"I","s":"b","t":22.19,"v":4.1},
{"p":"L","k":"L","s":"L","t":18.15,"v":10.6},{"p":"L","k":"I","s":"a","t":21.02,"v":5.5},{"p":"L","k":"I","s":"b","t":22.06,"v":5.0},
{"p":"M","k":"L","s":"M","t":18.02,"v":70},{"p":"M","k":"I","s":"a","t":20.32,"v":23.5},{"p":"M","k":"S","s":"*","t":20.77,"v":29.4},{"p":"M","k":"I","s":"b","t":21.32,"v":78.8},{"p":"M","k":"C","s":"1-AcP","t":23.77,"v":70.6},
{"p":"N","k":"L","s":"N","t":18.02,"v":70},{"p":"N","k":"S","s":"*","t":20.93,"v":18.5},
{"p":"O","k":"L","s":"O","t":18.02,"v":70},
{"p":"P","k":"L","s":"P","t":18.02,"v":70},
{"p":"Q","k":"L","s":"Q","t":18.02,"v":70},{"p":"Q","k":"I","s":"a","t":20.42,"v":18.6},{"p":"Q","k":"I","s":"b","t":21.32,"v":69},
{"p":"R","k":"L","s":"R","t":18.02,"v":70},{"p":"R","k":"I","s":"a","t":20.5,"v":16.9},{"p":"R","k":"I","s":"b","t":21.11,"v":37.2}
],
"leaders":[
{"p":"A","t":21.59,"v":36.6,"t2":21.95,"v2":31.4},{"p":"A","t":23.93,"v":33.7,"t2":24.14,"v2":27},
{"p":"B","t":21.99,"v":12.8,"t2":21.9,"v2":9.1},
{"p":"E","t":22.35,"v":12.5,"t2":22.13,"v2":8.1},
{"p":"F","t":19.19,"v":17.9,"t2":19.39,"v2":13.1},{"p":"F","t":22.17,"v":24.6,"t2":22.01,"v2":20.1},
{"p":"G","t":23.76,"v":10.4,"t2":23.53,"v2":8.9}
]
},
"spacing":18,
"hconcat":[
{"spacing":6.2,"bounds":"flush","vconcat":[
{"width":275,"height":105.5,"encoding":{"x":{"field":"t","type":"quantitative","scale":{"domain":[17.81,25.23],"nice":false,"zero":false},"axis":{"title":null,"labels":false,"tickSize":4,"values":[18,19,20,21,22,23,24,25]}},"y":{"field":"v","type":"quantitative","scale":{"domain":[-1.9,44.9],"nice":false,"zero":false},"axis":{"title":null,"values":[0,20,40],"tickSize":8,"labelPadding":2}}},"layer":[
{"data":{"name":"trace"},"transform":[{"filter":"datum.p=='A'"}],"mark":{"type":"line","clip":true,"color":"black","strokeWidth":1.8,"strokeJoin":"round"}},
{"data":{"name":"notes"},"transform":[{"filter":"datum.p=='A'"}],"mark":{"type":"text","color":"black","fontWeight":"bold","fontSize":{"expr":"datum.k=='L'?23:datum.k=='C'?22.5:datum.k=='I'?19:datum.k=='S'?26:16.5"},"fontStyle":{"expr":"datum.k=='I'?'italic':'normal'"},"align":{"expr":"datum.k=='L'?'left':'center'"},"dy":{"expr":"datum.k=='S'?6:0"}},"encoding":{"text":{"field":"s"}}},
{"data":{"name":"leaders"},"transform":[{"filter":"datum.p=='A'"}],"mark":{"type":"rule","color":"black","strokeWidth":0.8},"encoding":{"x2":{"field":"t2"},"y2":{"field":"v2"}}}]},
{"width":275,"height":105.5,"encoding":{"x":{"field":"t","type":"quantitative","scale":{"domain":[17.81,25.23],"nice":false,"zero":false},"axis":{"title":null,"labels":false,"tickSize":4,"values":[18,19,20,21,22,23,24,25]}},"y":{"field":"v","type":"quantitative","scale":{"domain":[-1.9,44.9],"nice":false,"zero":false},"axis":{"title":null,"values":[0,20,40],"tickSize":8,"labelPadding":2}}},"layer":[
{"data":{"name":"trace"},"transform":[{"filter":"datum.p=='B'"}],"mark":{"type":"line","clip":true,"color":"black","strokeWidth":1.8,"strokeJoin":"round"}},
{"data":{"name":"notes"},"transform":[{"filter":"datum.p=='B'"}],"mark":{"type":"text","color":"black","fontWeight":"bold","fontSize":{"expr":"datum.k=='L'?23:datum.k=='C'?22.5:datum.k=='I'?19:datum.k=='S'?26:16.5"},"fontStyle":{"expr":"datum.k=='I'?'italic':'normal'"},"align":{"expr":"datum.k=='L'?'left':'center'"},"dy":{"expr":"datum.k=='S'?6:0"}},"encoding":{"text":{"field":"s"}}},
{"data":{"name":"leaders"},"transform":[{"filter":"datum.p=='B'"}],"mark":{"type":"rule","color":"black","strokeWidth":0.8},"encoding":{"x2":{"field":"t2"},"y2":{"field":"v2"}}}]},
{"width":275,"height":105.5,"encoding":{"x":{"field":"t","type":"quantitative","scale":{"domain":[17.81,25.23],"nice":false,"zero":false},"axis":{"title":null,"labels":false,"tickSize":4,"values":[18,19,20,21,22,23,24,25]}},"y":{"field":"v","type":"quantitative","scale":{"domain":[-1.9,44.9],"nice":false,"zero":false},"axis":{"title":"Metabolism of pyrene (UV units)","titleY":108.6,"titlePadding":3,"values":[0,20,40],"tickSize":8,"labelPadding":2}}},"layer":[
{"data":{"name":"trace"},"transform":[{"filter":"datum.p=='C'"}],"mark":{"type":"line","clip":true,"color":"black","strokeWidth":1.8,"strokeJoin":"round"}},
{"data":{"name":"notes"},"transform":[{"filter":"datum.p=='C'"}],"mark":{"type":"text","color":"black","fontWeight":"bold","fontSize":{"expr":"datum.k=='L'?23:datum.k=='C'?22.5:datum.k=='I'?19:datum.k=='S'?26:16.5"},"fontStyle":{"expr":"datum.k=='I'?'italic':'normal'"},"align":{"expr":"datum.k=='L'?'left':'center'"},"dy":{"expr":"datum.k=='S'?6:0"}},"encoding":{"text":{"field":"s"}}}]},
{"width":275,"height":105.5,"encoding":{"x":{"field":"t","type":"quantitative","scale":{"domain":[17.81,25.23],"nice":false,"zero":false},"axis":{"title":null,"labels":false,"tickSize":4,"values":[18,19,20,21,22,23,24,25]}},"y":{"field":"v","type":"quantitative","scale":{"domain":[-1.9,44.9],"nice":false,"zero":false},"axis":{"title":null,"values":[0,20,40],"tickSize":8,"labelPadding":2}}},"layer":[
{"data":{"name":"trace"},"transform":[{"filter":"datum.p=='D'"}],"mark":{"type":"line","clip":true,"color":"black","strokeWidth":1.8,"strokeJoin":"round"}},
{"data":{"name":"notes"},"transform":[{"filter":"datum.p=='D'"}],"mark":{"type":"text","color":"black","fontWeight":"bold","fontSize":{"expr":"datum.k=='L'?23:datum.k=='C'?22.5:datum.k=='I'?19:datum.k=='S'?26:16.5"},"fontStyle":{"expr":"datum.k=='I'?'italic':'normal'"},"align":{"expr":"datum.k=='L'?'left':'center'"},"dy":{"expr":"datum.k=='S'?6:0"}},"encoding":{"text":{"field":"s"}}}]},
{"width":275,"height":105.5,"encoding":{"x":{"field":"t","type":"quantitative","scale":{"domain":[17.81,25.23],"nice":false,"zero":false},"axis":{"title":null,"labels":false,"tickSize":4,"values":[18,19,20,21,22,23,24,25]}},"y":{"field":"v","type":"quantitative","scale":{"domain":[-1.9,44.9],"nice":false,"zero":false},"axis":{"title":null,"values":[0,20,40],"tickSize":8,"labelPadding":2}}},"layer":[
{"data":{"name":"trace"},"transform":[{"filter":"datum.p=='E'"}],"mark":{"type":"line","clip":true,"color":"black","strokeWidth":1.8,"strokeJoin":"round"}},
{"data":{"name":"notes"},"transform":[{"filter":"datum.p=='E'"}],"mark":{"type":"text","color":"black","fontWeight":"bold","fontSize":{"expr":"datum.k=='L'?23:datum.k=='C'?22.5:datum.k=='I'?19:datum.k=='S'?26:16.5"},"fontStyle":{"expr":"datum.k=='I'?'italic':'normal'"},"align":{"expr":"datum.k=='L'?'left':'center'"},"dy":{"expr":"datum.k=='S'?6:0"}},"encoding":{"text":{"field":"s"}}},
{"data":{"name":"leaders"},"transform":[{"filter":"datum.p=='E'"}],"mark":{"type":"rule","color":"black","strokeWidth":0.8},"encoding":{"x2":{"field":"t2"},"y2":{"field":"v2"}}}]},
{"width":275,"height":105.5,"encoding":{"x":{"field":"t","type":"quantitative","scale":{"domain":[17.81,25.23],"nice":false,"zero":false},"axis":{"title":null,"tickSize":6,"labelPadding":3,"values":[18,19,20,21,22,23,24,25]}},"y":{"field":"v","type":"quantitative","scale":{"domain":[-1.9,44.9],"nice":false,"zero":false},"axis":{"title":null,"values":[0,20,40],"tickSize":8,"labelPadding":2}}},"layer":[
{"data":{"name":"trace"},"transform":[{"filter":"datum.p=='F'"}],"mark":{"type":"line","clip":true,"color":"black","strokeWidth":1.8,"strokeJoin":"round"}},
{"data":{"name":"notes"},"transform":[{"filter":"datum.p=='F'"}],"mark":{"type":"text","color":"black","fontWeight":"bold","fontSize":{"expr":"datum.k=='L'?23:datum.k=='C'?22.5:datum.k=='I'?19:datum.k=='S'?26:16.5"},"fontStyle":{"expr":"datum.k=='I'?'italic':'normal'"},"align":{"expr":"datum.k=='L'?'left':'center'"},"dy":{"expr":"datum.k=='S'?6:0"}},"encoding":{"text":{"field":"s"}}},
{"data":{"name":"leaders"},"transform":[{"filter":"datum.p=='F'"}],"mark":{"type":"rule","color":"black","strokeWidth":0.8},"encoding":{"x2":{"field":"t2"},"y2":{"field":"v2"}}}]}
]},
{"spacing":6.2,"bounds":"flush","vconcat":[
{"width":275,"height":105.5,"encoding":{"x":{"field":"t","type":"quantitative","scale":{"domain":[17.81,25.23],"nice":false,"zero":false},"axis":{"title":null,"labels":false,"tickSize":4,"values":[18,19,20,21,22,23,24,25]}},"y":{"field":"v","type":"quantitative","scale":{"domain":[-0.3,13.5],"nice":false,"zero":false},"axis":{"title":null,"values":[0,6,12],"tickSize":8,"labelPadding":2}}},"layer":[
{"data":{"name":"trace"},"transform":[{"filter":"datum.p=='G'"}],"mark":{"type":"line","clip":true,"color":"black","strokeWidth":1.8,"strokeJoin":"round"}},
{"data":{"name":"notes"},"transform":[{"filter":"datum.p=='G'"}],"mark":{"type":"text","color":"black","fontWeight":"bold","fontSize":{"expr":"datum.k=='L'?23:datum.k=='C'?22.5:datum.k=='I'?19:datum.k=='S'?26:16.5"},"fontStyle":{"expr":"datum.k=='I'?'italic':'normal'"},"align":{"expr":"datum.k=='L'?'left':'center'"},"dy":{"expr":"datum.k=='S'?6:0"}},"encoding":{"text":{"field":"s"}}},
{"data":{"name":"leaders"},"transform":[{"filter":"datum.p=='G'"}],"mark":{"type":"rule","color":"black","strokeWidth":0.8},"encoding":{"x2":{"field":"t2"},"y2":{"field":"v2"}}}]},
{"width":275,"height":105.5,"encoding":{"x":{"field":"t","type":"quantitative","scale":{"domain":[17.81,25.23],"nice":false,"zero":false},"axis":{"title":null,"labels":false,"tickSize":4,"values":[18,19,20,21,22,23,24,25]}},"y":{"field":"v","type":"quantitative","scale":{"domain":[-0.3,13.5],"nice":false,"zero":false},"axis":{"title":null,"values":[0,6,12],"tickSize":8,"labelPadding":2}}},"layer":[
{"data":{"name":"trace"},"transform":[{"filter":"datum.p=='H'"}],"mark":{"type":"line","clip":true,"color":"black","strokeWidth":1.8,"strokeJoin":"round"}},
{"data":{"name":"notes"},"transform":[{"filter":"datum.p=='H'"}],"mark":{"type":"text","color":"black","fontWeight":"bold","fontSize":{"expr":"datum.k=='L'?23:datum.k=='C'?22.5:datum.k=='I'?19:datum.k=='S'?26:16.5"},"fontStyle":{"expr":"datum.k=='I'?'italic':'normal'"},"align":{"expr":"datum.k=='L'?'left':'center'"},"dy":{"expr":"datum.k=='S'?6:0"}},"encoding":{"text":{"field":"s"}}}]},
{"width":275,"height":105.5,"encoding":{"x":{"field":"t","type":"quantitative","scale":{"domain":[17.81,25.23],"nice":false,"zero":false},"axis":{"title":null,"labels":false,"tickSize":4,"values":[18,19,20,21,22,23,24,25]}},"y":{"field":"v","type":"quantitative","scale":{"domain":[-0.3,13.5],"nice":false,"zero":false},"axis":{"title":"Metabolism of 1-nitropyrene (UV units)","titleY":108.6,"titlePadding":8,"values":[0,6,12],"tickSize":8,"labelPadding":2}}},"layer":[
{"data":{"name":"trace"},"transform":[{"filter":"datum.p=='I'"}],"mark":{"type":"line","clip":true,"color":"black","strokeWidth":1.8,"strokeJoin":"round"}},
{"data":{"name":"notes"},"transform":[{"filter":"datum.p=='I'"}],"mark":{"type":"text","color":"black","fontWeight":"bold","fontSize":{"expr":"datum.k=='L'?23:datum.k=='C'?22.5:datum.k=='I'?19:datum.k=='S'?26:16.5"},"fontStyle":{"expr":"datum.k=='I'?'italic':'normal'"},"align":{"expr":"datum.k=='L'?'left':'center'"},"dy":{"expr":"datum.k=='S'?6:0"}},"encoding":{"text":{"field":"s"}}}]},
{"width":275,"height":105.5,"encoding":{"x":{"field":"t","type":"quantitative","scale":{"domain":[17.81,25.23],"nice":false,"zero":false},"axis":{"title":null,"labels":false,"tickSize":4,"values":[18,19,20,21,22,23,24,25]}},"y":{"field":"v","type":"quantitative","scale":{"domain":[-0.3,13.5],"nice":false,"zero":false},"axis":{"title":null,"values":[0,6,12],"tickSize":8,"labelPadding":2}}},"layer":[
{"data":{"name":"trace"},"transform":[{"filter":"datum.p=='J'"}],"mark":{"type":"line","clip":true,"color":"black","strokeWidth":1.8,"strokeJoin":"round"}},
{"data":{"name":"notes"},"transform":[{"filter":"datum.p=='J'"}],"mark":{"type":"text","color":"black","fontWeight":"bold","fontSize":{"expr":"datum.k=='L'?23:datum.k=='C'?22.5:datum.k=='I'?19:datum.k=='S'?26:16.5"},"fontStyle":{"expr":"datum.k=='I'?'italic':'normal'"},"align":{"expr":"datum.k=='L'?'left':'center'"},"dy":{"expr":"datum.k=='S'?6:0"}},"encoding":{"text":{"field":"s"}}}]},
{"width":275,"height":105.5,"encoding":{"x":{"field":"t","type":"quantitative","scale":{"domain":[17.81,25.23],"nice":false,"zero":false},"axis":{"title":null,"labels":false,"tickSize":4,"values":[18,19,20,21,22,23,24,25]}},"y":{"field":"v","type":"quantitative","scale":{"domain":[-0.3,13.5],"nice":false,"zero":false},"axis":{"title":null,"values":[0,6,12],"tickSize":8,"labelPadding":2}}},"layer":[
{"data":{"name":"trace"},"transform":[{"filter":"datum.p=='K'"}],"mark":{"type":"line","clip":true,"color":"black","strokeWidth":1.8,"strokeJoin":"round"}},
{"data":{"name":"notes"},"transform":[{"filter":"datum.p=='K'"}],"mark":{"type":"text","color":"black","fontWeight":"bold","fontSize":{"expr":"datum.k=='L'?23:datum.k=='C'?22.5:datum.k=='I'?19:datum.k=='S'?26:16.5"},"fontStyle":{"expr":"datum.k=='I'?'italic':'normal'"},"align":{"expr":"datum.k=='L'?'left':'center'"},"dy":{"expr":"datum.k=='S'?6:0"}},"encoding":{"text":{"field":"s"}}}]},
{"width":275,"height":105.5,"encoding":{"x":{"field":"t","type":"quantitative","scale":{"domain":[17.81,25.23],"nice":false,"zero":false},"axis":{"title":"Retention time (min)","titlePadding":12,"tickSize":6,"labelPadding":3,"values":[18,19,20,21,22,23,24,25]}},"y":{"field":"v","type":"quantitative","scale":{"domain":[-0.3,13.5],"nice":false,"zero":false},"axis":{"title":null,"values":[0,6,12],"tickSize":8,"labelPadding":2}}},"layer":[
{"data":{"name":"trace"},"transform":[{"filter":"datum.p=='L'"}],"mark":{"type":"line","clip":true,"color":"black","strokeWidth":1.8,"strokeJoin":"round"}},
{"data":{"name":"notes"},"transform":[{"filter":"datum.p=='L'"}],"mark":{"type":"text","color":"black","fontWeight":"bold","fontSize":{"expr":"datum.k=='L'?23:datum.k=='C'?22.5:datum.k=='I'?19:datum.k=='S'?26:16.5"},"fontStyle":{"expr":"datum.k=='I'?'italic':'normal'"},"align":{"expr":"datum.k=='L'?'left':'center'"},"dy":{"expr":"datum.k=='S'?6:0"}},"encoding":{"text":{"field":"s"}}}]}
]},
{"spacing":6.2,"bounds":"flush","vconcat":[
{"width":275,"height":105.5,"encoding":{"x":{"field":"t","type":"quantitative","scale":{"domain":[17.81,25.23],"nice":false,"zero":false},"axis":{"title":null,"labels":false,"tickSize":4,"values":[18,19,20,21,22,23,24,25]}},"y":{"field":"v","type":"quantitative","scale":{"domain":[-3,90],"nice":false,"zero":false},"axis":{"title":null,"values":[0,40,80],"tickSize":8,"labelPadding":2}}},"layer":[
{"data":{"name":"trace"},"transform":[{"filter":"datum.p=='M'"}],"mark":{"type":"line","clip":true,"color":"black","strokeWidth":1.8,"strokeJoin":"round"}},
{"data":{"name":"notes"},"transform":[{"filter":"datum.p=='M'"}],"mark":{"type":"text","color":"black","fontWeight":"bold","fontSize":{"expr":"datum.k=='L'?23:datum.k=='C'?22.5:datum.k=='I'?19:datum.k=='S'?26:16.5"},"fontStyle":{"expr":"datum.k=='I'?'italic':'normal'"},"align":{"expr":"datum.k=='L'?'left':'center'"},"dy":{"expr":"datum.k=='S'?6:0"}},"encoding":{"text":{"field":"s"}}}]},
{"width":275,"height":105.5,"encoding":{"x":{"field":"t","type":"quantitative","scale":{"domain":[17.81,25.23],"nice":false,"zero":false},"axis":{"title":null,"labels":false,"tickSize":4,"values":[18,19,20,21,22,23,24,25]}},"y":{"field":"v","type":"quantitative","scale":{"domain":[-3,90],"nice":false,"zero":false},"axis":{"title":null,"values":[0,40,80],"tickSize":8,"labelPadding":2}}},"layer":[
{"data":{"name":"trace"},"transform":[{"filter":"datum.p=='N'"}],"mark":{"type":"line","clip":true,"color":"black","strokeWidth":1.8,"strokeJoin":"round"}},
{"data":{"name":"notes"},"transform":[{"filter":"datum.p=='N'"}],"mark":{"type":"text","color":"black","fontWeight":"bold","fontSize":{"expr":"datum.k=='L'?23:datum.k=='C'?22.5:datum.k=='I'?19:datum.k=='S'?26:16.5"},"fontStyle":{"expr":"datum.k=='I'?'italic':'normal'"},"align":{"expr":"datum.k=='L'?'left':'center'"},"dy":{"expr":"datum.k=='S'?6:0"}},"encoding":{"text":{"field":"s"}}}]},
{"width":275,"height":105.5,"encoding":{"x":{"field":"t","type":"quantitative","scale":{"domain":[17.81,25.23],"nice":false,"zero":false},"axis":{"title":null,"labels":false,"tickSize":4,"values":[18,19,20,21,22,23,24,25]}},"y":{"field":"v","type":"quantitative","scale":{"domain":[-3,90],"nice":false,"zero":false},"axis":{"title":"Metabolism of 1-acetylpyrene (UV units)","titleY":108.6,"titlePadding":8,"values":[0,40,80],"tickSize":8,"labelPadding":2}}},"layer":[
{"data":{"name":"trace"},"transform":[{"filter":"datum.p=='O'"}],"mark":{"type":"line","clip":true,"color":"black","strokeWidth":1.8,"strokeJoin":"round"}},
{"data":{"name":"notes"},"transform":[{"filter":"datum.p=='O'"}],"mark":{"type":"text","color":"black","fontWeight":"bold","fontSize":{"expr":"datum.k=='L'?23:datum.k=='C'?22.5:datum.k=='I'?19:datum.k=='S'?26:16.5"},"fontStyle":{"expr":"datum.k=='I'?'italic':'normal'"},"align":{"expr":"datum.k=='L'?'left':'center'"},"dy":{"expr":"datum.k=='S'?6:0"}},"encoding":{"text":{"field":"s"}}}]},
{"width":275,"height":105.5,"encoding":{"x":{"field":"t","type":"quantitative","scale":{"domain":[17.81,25.23],"nice":false,"zero":false},"axis":{"title":null,"labels":false,"tickSize":4,"values":[18,19,20,21,22,23,24,25]}},"y":{"field":"v","type":"quantitative","scale":{"domain":[-3,90],"nice":false,"zero":false},"axis":{"title":null,"values":[0,40,80],"tickSize":8,"labelPadding":2}}},"layer":[
{"data":{"name":"trace"},"transform":[{"filter":"datum.p=='P'"}],"mark":{"type":"line","clip":true,"color":"black","strokeWidth":1.8,"strokeJoin":"round"}},
{"data":{"name":"notes"},"transform":[{"filter":"datum.p=='P'"}],"mark":{"type":"text","color":"black","fontWeight":"bold","fontSize":{"expr":"datum.k=='L'?23:datum.k=='C'?22.5:datum.k=='I'?19:datum.k=='S'?26:16.5"},"fontStyle":{"expr":"datum.k=='I'?'italic':'normal'"},"align":{"expr":"datum.k=='L'?'left':'center'"},"dy":{"expr":"datum.k=='S'?6:0"}},"encoding":{"text":{"field":"s"}}}]},
{"width":275,"height":105.5,"encoding":{"x":{"field":"t","type":"quantitative","scale":{"domain":[17.81,25.23],"nice":false,"zero":false},"axis":{"title":null,"labels":false,"tickSize":4,"values":[18,19,20,21,22,23,24,25]}},"y":{"field":"v","type":"quantitative","scale":{"domain":[-3,90],"nice":false,"zero":false},"axis":{"title":null,"values":[0,40,80],"tickSize":8,"labelPadding":2}}},"layer":[
{"data":{"name":"trace"},"transform":[{"filter":"datum.p=='Q'"}],"mark":{"type":"line","clip":true,"color":"black","strokeWidth":1.8,"strokeJoin":"round"}},
{"data":{"name":"notes"},"transform":[{"filter":"datum.p=='Q'"}],"mark":{"type":"text","color":"black","fontWeight":"bold","fontSize":{"expr":"datum.k=='L'?23:datum.k=='C'?22.5:datum.k=='I'?19:datum.k=='S'?26:16.5"},"fontStyle":{"expr":"datum.k=='I'?'italic':'normal'"},"align":{"expr":"datum.k=='L'?'left':'center'"},"dy":{"expr":"datum.k=='S'?6:0"}},"encoding":{"text":{"field":"s"}}}]},
{"width":275,"height":105.5,"encoding":{"x":{"field":"t","type":"quantitative","scale":{"domain":[17.81,25.23],"nice":false,"zero":false},"axis":{"title":null,"tickSize":6,"labelPadding":3,"values":[18,19,20,21,22,23,24,25]}},"y":{"field":"v","type":"quantitative","scale":{"domain":[-3,90],"nice":false,"zero":false},"axis":{"title":null,"values":[0,40,80],"tickSize":8,"labelPadding":2}}},"layer":[
{"data":{"name":"trace"},"transform":[{"filter":"datum.p=='R'"}],"mark":{"type":"line","clip":true,"color":"black","strokeWidth":1.8,"strokeJoin":"round"}},
{"data":{"name":"notes"},"transform":[{"filter":"datum.p=='R'"}],"mark":{"type":"text","color":"black","fontWeight":"bold","fontSize":{"expr":"datum.k=='L'?23:datum.k=='C'?22.5:datum.k=='I'?19:datum.k=='S'?26:16.5"},"fontStyle":{"expr":"datum.k=='I'?'italic':'normal'"},"align":{"expr":"datum.k=='L'?'left':'center'"},"dy":{"expr":"datum.k=='S'?6:0"}},"encoding":{"text":{"field":"s"}}}]}
]}
]
}
